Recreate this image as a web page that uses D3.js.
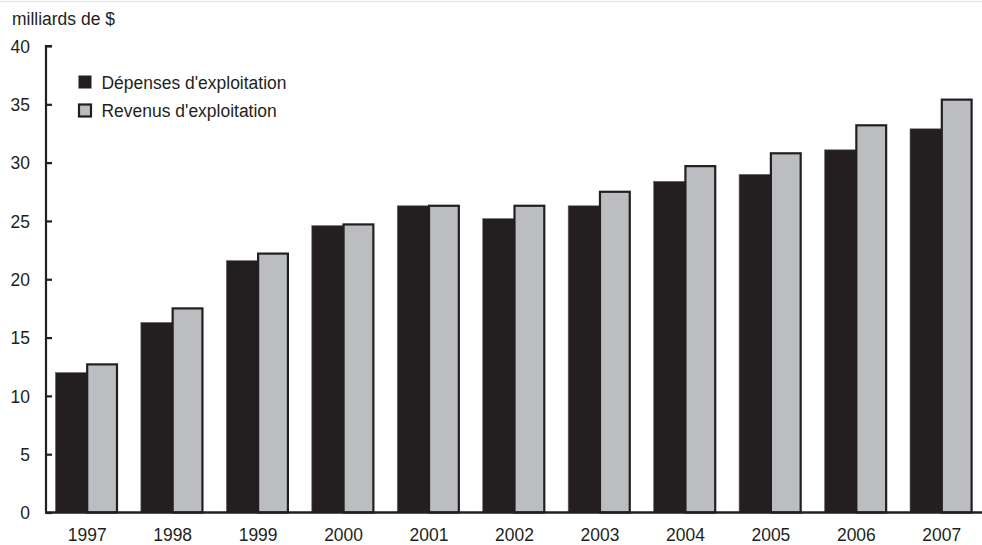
<!DOCTYPE html>
<html><head><meta charset="utf-8">
<script src="https://cdn.jsdelivr.net/npm/d3@7"></script>
<style>
html,body{margin:0;padding:0;background:#fff;}
text{font-family:"Liberation Sans",Arial,Helvetica,sans-serif;fill:#231f20;}
</style></head>
<body><svg id="c" width="982" height="545"></svg>
<script>
const years = ["1997","1998","1999","2000","2001","2002","2003","2004","2005","2006","2007"];
const depenses = [12.0, 16.3, 21.6, 24.6, 26.3, 25.2, 26.3, 28.4, 29.0, 31.1, 32.9];
const revenus  = [12.7, 17.5, 22.2, 24.7, 26.3, 26.3, 27.5, 29.7, 30.8, 33.2, 35.4];
const seriesNames = ["Dépenses d'exploitation", "Revenus d'exploitation"];
const yTicks = [0,5,10,15,20,25,30,35,40];
const unitLabel = "milliards de $";

const svg = d3.select("#c");
const dark = "#231f20", light = "#bcbdc0";
const FS = 19, SX = 0.92;
const m = {left:46, top:46, bottom:512.5, right:983};

svg.append("line").attr("x1",0).attr("x2",982).attr("y1",1.5).attr("y2",1.5)
  .attr("stroke","#e8e8e8").attr("stroke-width",1.5);

const x = d3.scaleBand().domain(years).range([m.left, m.right]).paddingInner(0.256).paddingOuter(0.11);
const sub = d3.scaleBand().domain([0,1]).range([0, x.bandwidth()]);
const y = d3.scaleLinear().domain([0,40]).range([m.bottom, m.top]);

function label(sel, tx, ty, txt, anchor){
  const g = sel.append("g").attr("transform",`translate(${tx},${ty}) scale(${SX},1)`);
  g.append("text").attr("text-anchor",anchor||"start").attr("font-size",FS).text(txt);
  return g;
}

const data = years.map((yr,i)=>({yr, v:[depenses[i], revenus[i]]}));
const grp = svg.append("g").selectAll("g.yr").data(data).join("g").attr("transform", d=>`translate(${x(d.yr)},0)`);
grp.append("rect")
  .attr("x", sub(0)).attr("width", sub.bandwidth())
  .attr("y", d=>y(d.v[0])).attr("height", d=>y(0)-y(d.v[0]))
  .attr("fill", dark).attr("stroke","#6d6b6c").attr("stroke-width",0.6);
grp.append("rect")
  .attr("x", sub(1)).attr("width", sub.bandwidth()-2)
  .attr("y", d=>y(d.v[1])).attr("height", d=>y(0)-y(d.v[1]))
  .attr("fill", light).attr("stroke", dark).attr("stroke-width",2.2);

// y axis
const ya = svg.append("g").attr("transform",`translate(${m.left},0)`)
  .call(d3.axisRight(y).tickValues(yTicks).tickSize(6).tickFormat(""));
ya.select(".domain").attr("stroke",dark).attr("stroke-width",2.2).attr("d",`M6,${m.top}H0V${m.bottom}`);
ya.selectAll(".tick line").attr("stroke",dark).attr("stroke-width",2.2);
const yl = svg.append("g");
yTicks.forEach(t=>{
  label(yl, 30, y(t)+6.8, String(t), "end");
});

// x axis
const xa = svg.append("g").attr("transform",`translate(0,${m.bottom})`)
  .call(d3.axisBottom(x).tickSize(0).tickPadding(15));
xa.select(".domain").attr("stroke",dark).attr("stroke-width",2.4).attr("d",`M${m.left-1},0H${m.right}`);
xa.selectAll(".tick text").attr("font-size",FS).attr("transform",`scale(${SX},1)`)
  .style("font-family",'"Liberation Sans",Arial,sans-serif').attr("fill",dark);

// unit label
label(svg, 12, 25, unitLabel, "start");

// legend
const lg = svg.append("g");
seriesNames.forEach((n,i)=>{
  const cy = 82 + i*28.5;
  lg.append("rect").attr("x", 79).attr("y", cy-6).attr("width",12).attr("height",12)
    .attr("fill", i===0?dark:light).attr("stroke",dark).attr("stroke-width", i===0?1:2.2);
  label(lg, 101.5, cy+6.8, n, "start");
});
</script></body></html>
